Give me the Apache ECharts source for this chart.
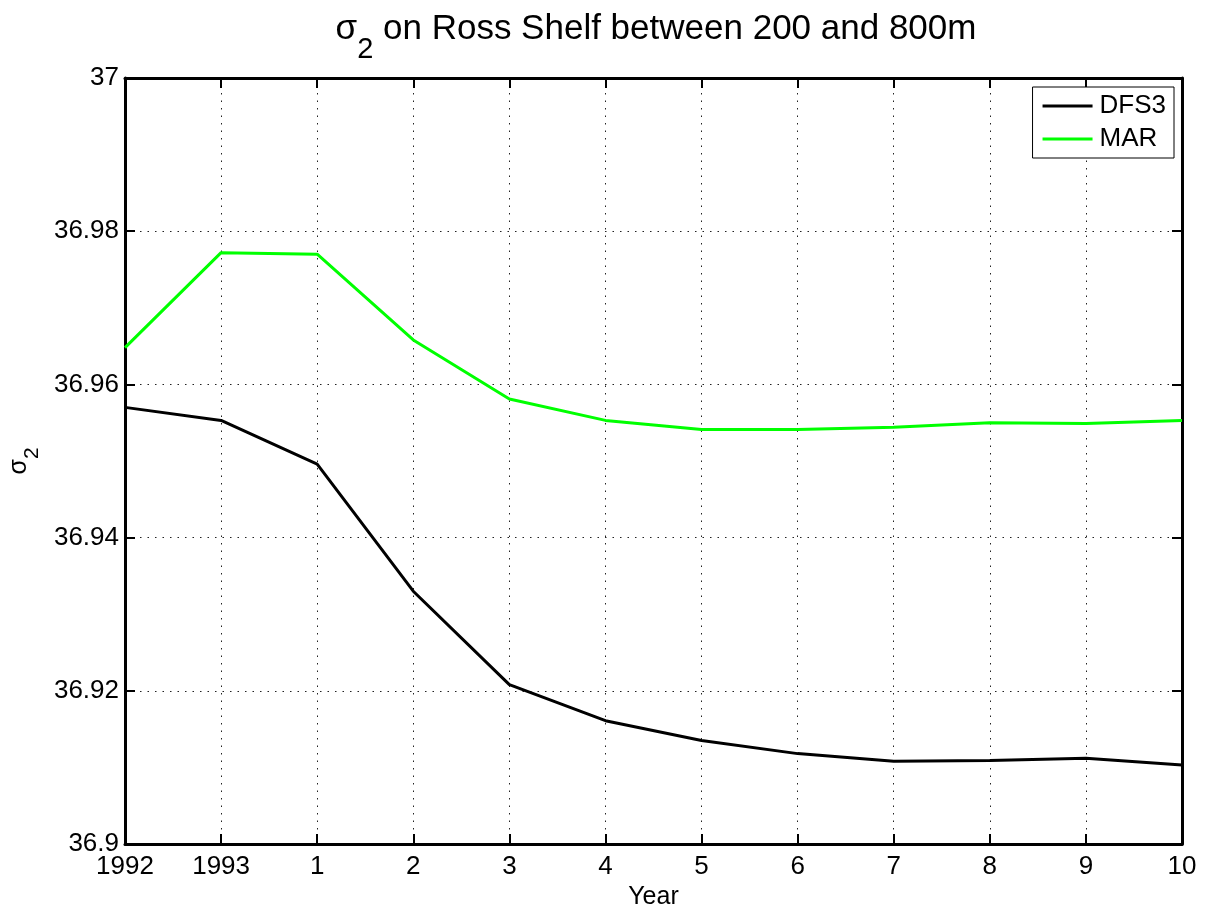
<!DOCTYPE html>
<html>
<head>
<meta charset="utf-8">
<script src="https://cdn.jsdelivr.net/npm/echarts@6/dist/echarts.min.js"></script>
<style>
  html, body { margin: 0; padding: 0; background: #fff; overflow: hidden; }
  #chart { width: 1209px; height: 908px; }
</style>
</head>
<body>
<div id="chart"></div>
<script>
// data
var years = ['1992', '1993', '1', '2', '3', '4', '5', '6', '7', '8', '9', '10'];
var dfs3 = [36.9570, 36.9553, 36.9496, 36.9330, 36.9208, 36.9161, 36.9135, 36.9118, 36.9108, 36.9109, 36.9112, 36.9103];
var mar = [36.9648, 36.9772, 36.9770, 36.9658, 36.9581, 36.9553, 36.9541, 36.9541, 36.9544, 36.9550, 36.9549, 36.9553];
var yMin = 36.9, yMax = 37, yStep = 0.02;

var font = 'Liberation Sans, Arial, sans-serif';
var gridLine = { show: true, lineStyle: { color: '#222', width: 1, type: [1.5, 6] } };
var axisLine = { show: true, onZero: false, lineStyle: { color: '#000', width: 3 } };
var tick = { show: true, inside: true, length: 10, lineStyle: { color: '#000', width: 2 } };

var chart = echarts.init(document.getElementById('chart'));
chart.setOption({
  backgroundColor: '#fff',
  animation: false,
  textStyle: { fontFamily: font },
  title: {
    text: '{m|σ}{sub|2}{m| on Ross Shelf between 200 and 800m}',
    left: 656,
    textAlign: 'center',
    top: -5,
    padding: 0,
    textStyle: {
      fontWeight: 'normal',
      rich: {
        m: { fontFamily: font, fontSize: 35, fontWeight: 'normal', color: '#000' },
        sub: { fontFamily: font, fontSize: 29, fontWeight: 'normal', color: '#000', padding: [40, 0, 0, 0] }
      }
    }
  },
  legend: {
    orient: 'vertical',
    right: 35,
    top: 87,
    padding: [6, 8, 6, 10],
    icon: 'rect',
    itemWidth: 50,
    itemHeight: 3,
    itemGap: 7,
    borderColor: '#000',
    borderWidth: 1,
    borderRadius: 0,
    backgroundColor: '#fff',
    textStyle: { fontFamily: font, fontSize: 26, lineHeight: 26, color: '#000', padding: [0, 0, 0, 2] },
    data: ['DFS3', 'MAR']
  },
  grid: { left: 125, right: 27, top: 78, bottom: 64, containLabel: false, outerBoundsMode: 'none' },
  xAxis: [{
    type: 'category',
    data: years,
    boundaryGap: false,
    name: 'Year',
    nameLocation: 'middle',
    nameGap: 37,
    nameTextStyle: { fontFamily: font, fontSize: 25, color: '#000' },
    axisLine: axisLine,
    axisTick: tick,
    axisLabel: { interval: 0, margin: 10, fontFamily: font, fontSize: 26, color: '#000' },
    splitLine: gridLine
  }, {
    type: 'category',
    data: years,
    boundaryGap: false,
    position: 'top',
    axisLine: axisLine,
    axisTick: tick,
    axisLabel: { show: false },
    splitLine: { show: false }
  }],
  yAxis: [{
    type: 'value',
    min: yMin,
    max: yMax,
    interval: yStep,
    name: '{m|σ}{sub|2}',
    nameLocation: 'middle',
    nameRotate: 90,
    nameGap: 82,
    nameTextStyle: {
      rich: {
        m: { fontFamily: font, fontSize: 25, color: '#000' },
        sub: { fontFamily: font, fontSize: 21, color: '#000', padding: [26, 0, 0, 0] }
      }
    },
    axisLine: axisLine,
    axisTick: tick,
    axisLabel: { margin: 6, fontFamily: font, fontSize: 26, color: '#000' },
    splitLine: gridLine
  }, {
    type: 'value',
    min: yMin,
    max: yMax,
    interval: yStep,
    position: 'right',
    axisLine: axisLine,
    axisTick: tick,
    axisLabel: { show: false },
    splitLine: { show: false }
  }],
  series: [{
    name: 'DFS3',
    type: 'line',
    data: dfs3,
    symbol: 'none',
    color: '#000',
    lineStyle: { color: '#000', width: 3 }
  }, {
    name: 'MAR',
    type: 'line',
    data: mar,
    symbol: 'none',
    color: '#00ff00',
    lineStyle: { color: '#00ff00', width: 3 }
  }]
});
</script>
</body>
</html>
